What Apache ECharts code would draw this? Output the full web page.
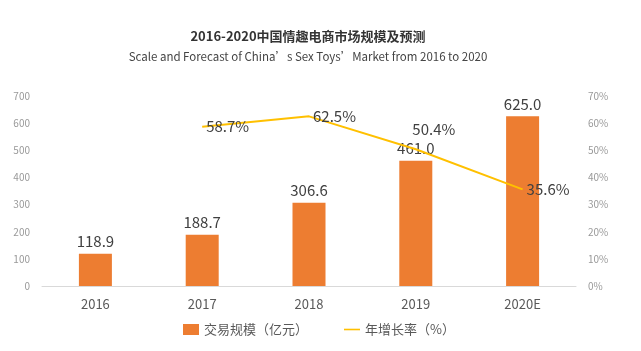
<!DOCTYPE html>
<html>
<head>
<meta charset="utf-8">
<script src="https://cdn.jsdelivr.net/npm/echarts@6/dist/echarts.min.js"></script>
<style>
  html, body { margin: 0; padding: 0; background: #fff; }
  #main { width: 641px; height: 351px; }
</style>
</head>
<body>
<div id="main"></div>
<script>
  // data
  const years = ['2016', '2017', '2018', '2019', '2020E'];
  const scale = [118.9, 188.7, 306.6, 461.0, 625.0];
  const growth = [null, 58.7, 62.5, 50.4, 35.6];

  // 2019 growth label sits above the line, the others to the right
  const growthData = growth.map((v, i) => i === 3
    ? { value: v, label: { position: 'top', offset: [18, -8] } }
    : v);

  const chart = echarts.init(document.getElementById('main'));
  chart.setOption({
    backgroundColor: '#fff',
    textStyle: { fontFamily: '"Noto Sans CJK SC", "Noto Sans", sans-serif' },
    title: {
      text: '2016-2020中国情趣电商市场规模及预测',
      subtext: 'Scale and Forecast of China’s Sex Toys’Market from 2016 to 2020',
      left: 303,
      textAlign: 'center',
      top: 25,
      itemGap: 8,
      textStyle: { fontSize: 13, fontWeight: 'bold', color: '#333' },
      subtextStyle: { fontSize: 11.5, color: '#444' }
    },
    legend: {
      bottom: 10,
      left: 178,
      itemWidth: 16,
      itemHeight: 11,
      itemGap: 36,
      textStyle: { fontSize: 13, color: '#595959' },
      data: [
        { name: '交易规模（亿元）', icon: 'rect' },
        { name: '年增长率（%）', icon: 'path://M0,4L20,4L20,6L0,6Z' }
      ]
    },
    grid: { left: 42, right: 65, top: 96, bottom: 65 },
    xAxis: {
      type: 'category',
      data: years,
      axisTick: { show: false },
      axisLine: { lineStyle: { color: '#d9d9d9' } },
      axisLabel: { fontSize: 13, color: '#595959', margin: 12 }
    },
    yAxis: [
      {
        type: 'value', min: 0, max: 700, interval: 100,
        splitLine: { show: false },
        axisLabel: { fontSize: 10, color: '#999', margin: 12 },
        axisLine: { show: false }
      },
      {
        type: 'value', min: 0, max: 70, interval: 10,
        splitLine: { show: false },
        axisLabel: { fontSize: 10, color: '#999', formatter: '{value}%', margin: 12 },
        axisLine: { show: false }
      }
    ],
    series: [
      {
        name: '交易规模（亿元）',
        type: 'bar',
        data: scale,
        barWidth: 33,
        itemStyle: { color: '#ED7D31' },
        label: {
          show: true, position: 'top', fontSize: 15, color: '#404040',
          formatter: p => p.value.toFixed(1)
        }
      },
      {
        name: '年增长率（%）',
        type: 'line',
        yAxisIndex: 1,
        data: growthData,
        symbol: 'circle',
        symbolSize: 0,
        showSymbol: true,
        lineStyle: { color: '#FFC000', width: 2 },
        itemStyle: { color: '#FFC000' },
        label: {
          show: true, position: 'right', distance: 4, fontSize: 15, color: '#404040',
          formatter: p => p.value.toFixed(1) + '%'
        }
      }
    ]
  });
</script>
</body>
</html>
